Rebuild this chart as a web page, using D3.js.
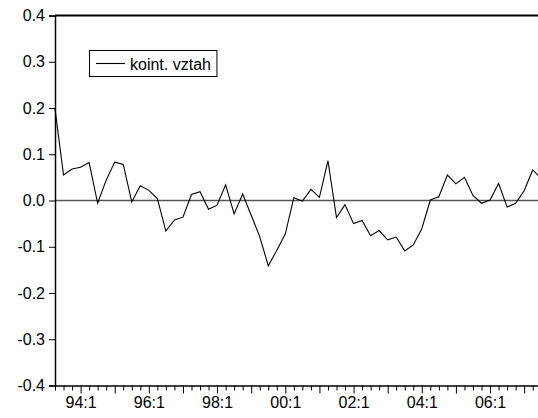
<!DOCTYPE html>
<html>
<head>
<meta charset="utf-8">
<script src="https://cdn.jsdelivr.net/npm/d3@7/dist/d3.min.js"></script>
<style>
  html, body { margin: 0; padding: 0; background: #fff; }
  svg { display: block; }
  text { font-family: "Liberation Sans", Arial, Helvetica, sans-serif; fill: #000; }
</style>
</head>
<body>
<svg id="chart" width="538" height="418"></svg>
<script>
// Quarterly observations, 1993:2 – 2007:3
const quarters = [
  "93:2","93:3","93:4",
  "94:1","94:2","94:3","94:4",
  "95:1","95:2","95:3","95:4",
  "96:1","96:2","96:3","96:4",
  "97:1","97:2","97:3","97:4",
  "98:1","98:2","98:3","98:4",
  "99:1","99:2","99:3","99:4",
  "00:1","00:2","00:3","00:4",
  "01:1","01:2","01:3","01:4",
  "02:1","02:2","02:3","02:4",
  "03:1","03:2","03:3","03:4",
  "04:1","04:2","04:3","04:4",
  "05:1","05:2","05:3","05:4",
  "06:1","06:2","06:3","06:4",
  "07:1","07:2","07:3"
];
const kointVztah = [
  0.198, 0.055, 0.068,
  0.072, 0.082, -0.006, 0.044,
  0.083, 0.078, -0.003, 0.032,
  0.022, 0.004, -0.066, -0.042,
  -0.036, 0.013, 0.019, -0.019,
  -0.010, 0.034, -0.029, 0.014,
  -0.032, -0.078, -0.141, -0.108,
  -0.072, 0.006, -0.001, 0.024,
  0.007, 0.086, -0.037, -0.009,
  -0.050, -0.043, -0.076, -0.065,
  -0.085, -0.079, -0.109, -0.096,
  -0.061, 0.001, 0.008, 0.055,
  0.036, 0.050, 0.011, -0.006,
  0.001, 0.037, -0.014, -0.006,
  0.021, 0.066, 0.048
];
const yTicks = [-0.4, -0.3, -0.2, -0.1, 0.0, 0.1, 0.2, 0.3, 0.4];
const xLabels = ["94:1", "96:1", "98:1", "00:1", "02:1", "04:1", "06:1"];
const seriesName = "koint. vztah";

const svg = d3.select("#chart");
const plotLeft = 55, plotTop = 15.5, plotBottom = 385.5;
const step = 8.53;
const plotRight = plotLeft + (quarters.length - 1) * step;

const x = d3.scaleLinear().domain([0, quarters.length - 1]).range([plotLeft, plotRight]);
const y = d3.scaleLinear().domain([-0.4, 0.4]).range([plotBottom, plotTop]);

// zero reference line
svg.append("line")
  .attr("x1", plotLeft).attr("x2", plotRight)
  .attr("y1", y(0)).attr("y2", y(0))
  .attr("stroke", "#555").attr("stroke-width", 1.5);

// series line
const line = d3.line().x((d, i) => x(i)).y(d => y(d));
svg.append("path")
  .datum(kointVztah)
  .attr("d", line)
  .attr("fill", "none")
  .attr("stroke", "#000")
  .attr("stroke-width", 1.1)
  .attr("stroke-linejoin", "miter");

// frame: top and right edges
svg.append("line")
  .attr("x1", plotLeft).attr("x2", plotRight)
  .attr("y1", plotTop).attr("y2", plotTop)
  .attr("stroke", "#000").attr("stroke-width", 2);
svg.append("line")
  .attr("x1", plotRight).attr("x2", plotRight)
  .attr("y1", plotTop).attr("y2", plotBottom)
  .attr("stroke", "#000").attr("stroke-width", 2);

// y axis
const yAxis = d3.axisLeft(y)
  .tickValues(yTicks)
  .tickSize(6)
  .tickPadding(4)
  .tickFormat(d => d3.format(".1f")(d).replace("\u2212", "-"));
const gy = svg.append("g").attr("transform", `translate(${plotLeft},0)`).call(yAxis);
gy.select(".domain").attr("stroke", "#000").attr("stroke-width", 1.5);
gy.selectAll(".tick line").attr("stroke", "#000").attr("stroke-width", 1);
gy.selectAll(".tick text")
  .attr("font-size", 16)
  .attr("font-family", "Liberation Sans, Arial, Helvetica, sans-serif");

// x axis: minor tick every quarter, longer tick each first quarter, labels every two years
const xAxis = d3.axisBottom(x)
  .tickValues(d3.range(quarters.length))
  .tickSize(5)
  .tickSizeOuter(0)
  .tickFormat(i => xLabels.includes(quarters[i]) ? quarters[i] : "");
const gx = svg.append("g").attr("transform", `translate(0,${plotBottom})`).call(xAxis);
gx.select(".domain").attr("stroke", "#000").attr("stroke-width", 1.5);
gx.selectAll(".tick line")
  .attr("stroke", "#000").attr("stroke-width", 1)
  .attr("y2", i => quarters[i].endsWith(":1") ? 8 : 5);
gx.selectAll(".tick text")
  .attr("font-size", 16)
  .attr("font-family", "Liberation Sans, Arial, Helvetica, sans-serif")
  .attr("y", 11);

// legend: box sized to its label
const lg = svg.append("g");
const box = lg.append("rect")
  .attr("x", 89.5).attr("y", 50.5).attr("height", 26)
  .attr("fill", "#fff").attr("stroke", "#000").attr("stroke-width", 1);
lg.append("line")
  .attr("x1", 96).attr("x2", 125).attr("y1", 63.5).attr("y2", 63.5)
  .attr("stroke", "#000").attr("stroke-width", 1.1);
const label = lg.append("text")
  .attr("x", 130).attr("y", 69.5)
  .attr("font-size", 16)
  .text(seriesName);
const labelEnd = 130 + label.node().getComputedTextLength();
box.attr("width", labelEnd + 6 - 89.5);
</script>
</body>
</html>
